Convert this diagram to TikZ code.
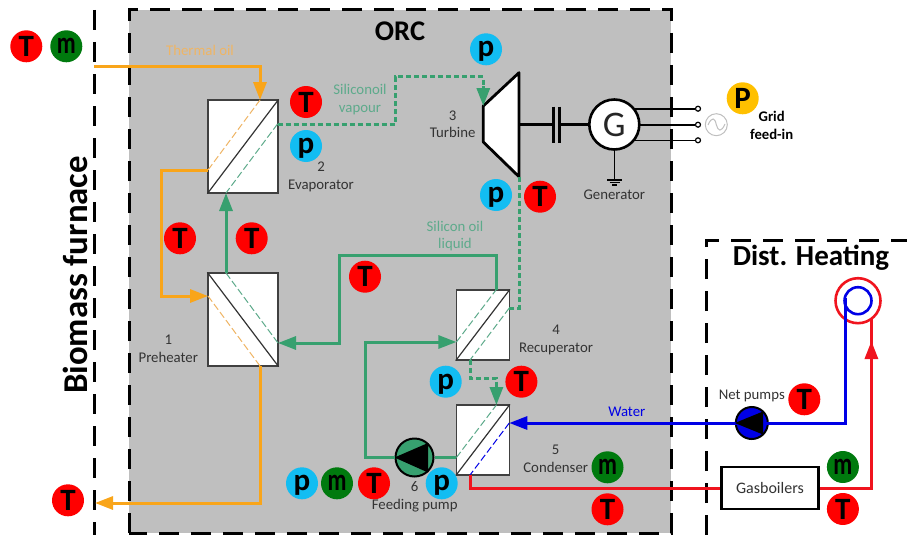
\documentclass[tikz,border=0pt]{standalone}
\usepackage{fontspec}
\setmainfont{Carlito}
\usetikzlibrary{arrows.meta}
\definecolor{orcgray}{HTML}{BFBFBF}
\definecolor{oilorange}{HTML}{F9A51A}
\definecolor{oillight}{HTML}{EFB564}
\definecolor{orcgreen}{HTML}{37A06F}
\definecolor{orclight}{HTML}{5DAA8B}
\definecolor{waterblue}{HTML}{0000E6}
\definecolor{hotred}{HTML}{F0141E}
\definecolor{badgered}{HTML}{FF0000}
\definecolor{badgeblue}{HTML}{12BDF2}
\definecolor{badgegreen}{HTML}{007A0E}
\definecolor{badgeyellow}{HTML}{FFC000}
\tikzset{
  boundary/.style={black,line width=3pt,dash pattern=on 20pt off 12pt},
  pipe/.style={line width=3pt,line join=miter},
  tip/.style={-{Triangle[length=18pt,width=13pt]}},
  vapour/.style={pipe,orcgreen,dash pattern=on 5pt off 3pt},
  inner/.style={line width=1pt,dash pattern=on 7pt off 3pt},
  exchanger/.style={draw=black!75,fill=white,line width=1.2pt,inner sep=0pt},
  badge/.style={circle,minimum size=32pt,inner sep=0pt,font=\fontsize{31}{31}\selectfont\bfseries},
  tbadge/.style={badge,fill=badgered},
  pbadge/.style={badge,fill=badgeblue,text depth=0pt},
  mbadge/.style={badge,fill=badgegreen},
  label/.style={font=\fontsize{14.8}{17.5}\selectfont,text=black!80,align=center,inner sep=0pt},
  oillabel/.style={label,text=oillight},
  greenlabel/.style={label,text=orclight},
  terminal/.style={circle,draw=black,fill=white,line width=1.2pt,minimum size=5pt,inner sep=0pt},
}
\newcommand{\thinm}{\scalebox{0.75}[1]{m}}
\begin{document}
\begin{tikzpicture}[x=1pt,y=-1pt]
  \useasboundingbox (0,0) rectangle (907,535);

  % ORC
  \fill[orcgray] (129,10) rectangle (671,533);
  \draw[boundary] (129,533) -- (129,10) -- (671,10) -- (671,533) -- (129,533);

  % limits
  \draw[boundary] (94,10) -- (94,535);
  \draw[boundary] (706,535) -- (706,240) -- (907,240);

  \node[font=\fontsize{28.5}{28}\selectfont\bfseries] (orctitle) at (400,31.5) {ORC};
  \node[font=\fontsize{29}{28}\selectfont\bfseries] (disttitle) at (811,257.5) {Dist. Heating};
  \node[rotate=90,font=\fontsize{34.8}{32}\selectfont\bfseries] (furnacetitle) at (75,275) {Biomass furnace};

  % exchangers
  \node[exchanger,minimum width=70pt,minimum height=93pt] (evaporator) at (243,146.5) {};
  \node[exchanger,minimum width=70pt,minimum height=93pt] (preheater) at (243,319.5) {};
  \node[exchanger,minimum width=53pt,minimum height=70pt] (recuperator) at (482.8,325) {};
  \node[exchanger,minimum width=53pt,minimum height=70pt] (condenser) at (482.8,440) {};

  \draw[line width=1.2pt,black!80] (evaporator.south west) -- (evaporator.north east);
  \draw[line width=1.2pt,black!80] (preheater.north west) -- (preheater.south east);
  \draw[line width=1.2pt,black!80] (recuperator.south west) -- (recuperator.north east);
  \draw[line width=1.2pt,black!80] (condenser.south west) -- (condenser.north east);

  % ports
  \coordinate (evapOilIn) at (260,100);
  \coordinate (evapOilOut) at (208,170);
  \coordinate (evapVapOut) at (277.5,124);
  \coordinate (evapLiqIn) at (226,193);
  \coordinate (preOilIn) at (208,296);
  \coordinate (preOilOut) at (260,366);
  \coordinate (preLiqOut) at (226,273);
  \coordinate (preLiqIn) at (278,343);
  \coordinate (recLiqIn) at (456.4,342);
  \coordinate (recLiqOut) at (496,290);
  \coordinate (recVapIn) at (509.3,308);
  \coordinate (recVapOut) at (470,360);
  \coordinate (conVapIn) at (496.4,405);
  \coordinate (conLiqOut) at (456.4,457.5);
  \coordinate (conWatIn) at (509.3,423);
  \coordinate (conWatOut) at (470,475);

  \draw[inner,oillight] (evapOilIn) -- (evapOilOut);
  \draw[inner,orclight] (evapVapOut) -- (evapLiqIn);
  \draw[inner,oillight] (preOilIn) -- (preOilOut);
  \draw[inner,orclight] (preLiqOut) -- (preLiqIn);
  \draw[inner,orclight] (recLiqIn) -- (recLiqOut);
  \draw[inner,orclight] (recVapIn) -- (recVapOut);
  \draw[inner,orclight] (conLiqOut) -- (conVapIn);
  \draw[inner,waterblue] (conWatIn) -- (conWatOut);

  % turbine
  \draw[fill=white,line width=2.8pt,line join=round] (483.3,106) -- (519,72.7) -- (519,176.7) -- (483.3,142) -- cycle;
  \coordinate (turbIn) at (483.3,106);
  \coordinate (turbOut) at (519,177);
  \coordinate (turbShaft) at (519,124.5);

  % thermal oil
  \coordinate (oilStart) at (94,67);
  \coordinate (oilEnd) at (95,503);
  \draw[pipe,oilorange,tip] (oilStart) -| (evapOilIn);
  \draw[pipe,oilorange,tip] (evapOilOut) -- (161,170) |- (preOilIn);
  \draw[pipe,oilorange,tip] (preOilOut) |- (oilEnd);

  % pumps
  \node[circle,draw=black,fill=orcgreen,line width=2pt,minimum size=38pt,inner sep=0pt] (feedpump) at (414.5,457.5) {};
  \fill[black] (feedpump.west) -- (428,443) -- (428,472.5) -- cycle;
  \node[circle,draw=black,fill=waterblue,line width=2pt,minimum size=32pt,inner sep=0pt] (netpump) at (751.8,423) {};

  % silicon oil
  \draw[pipe,orcgreen,tip] (preLiqOut) -- (evapLiqIn);
  \draw[pipe,orcgreen,tip] (recLiqOut) |- (339,255) |- (preLiqIn);
  \draw[pipe,orcgreen,tip] (feedpump.west) -| (365.5,342) -- (recLiqIn);
  \draw[pipe,orcgreen] (conLiqOut) -- (feedpump.east);
  \draw[vapour] (evapVapOut) -| (395,76.7) -| (483.3,90);
  \draw[pipe,orcgreen,tip] (483.3,86) -- (turbIn);
  \draw[vapour] (turbOut) |- (recVapIn);
  \draw[vapour] (recVapOut) |- (496.4,378) -- (496.4,388);
  \draw[pipe,orcgreen,tip] (496.4,385) -- (conVapIn);

  % district heating
  \node[circle,draw=hotred,line width=2.6pt,minimum size=45pt,inner sep=0pt] (netouter) at (858,300.7) {};
  \node[circle,draw=waterblue,line width=2.6pt,minimum size=27pt,inner sep=0pt] (netinner) at (858,300.7) {};
  \node[draw=black,fill=white,line width=2.6pt,minimum width=97pt,minimum height=42pt,inner sep=0pt,font=\fontsize{16}{18}\selectfont,text=black!80] (gasboilers) at (770,488) {Gasboilers};
  \coordinate (netBlue) at (845.4,298);
  \coordinate (netRed) at (871.4,319);
  \draw[pipe,waterblue,tip] (netBlue) |- (netpump.east) -- (netpump.west) -- (conWatIn);
  \fill[black] (netpump.west) -- (763,411.5) -- (763,434.5) -- cycle;
  \draw[pipe,hotred] (conWatOut) |- (gasboilers.west);
  \draw[pipe,hotred,tip] (gasboilers.east) -| (871.4,341);
  \draw[pipe,hotred] (871.4,345) -- (netRed);

  % generator
  \coordinate (genCenter) at (614.3,124.5);
  \node[terminal] (termA) at (698,108.7) {};
  \node[terminal] (termB) at (698,124.7) {};
  \node[terminal] (termC) at (698,140.3) {};
  \draw[line width=1.6pt] (genCenter |- termA) -- (termA);
  \draw[line width=1.6pt] (genCenter |- termB) -- (termB);
  \draw[line width=1.6pt] (genCenter |- termC) -- (termC);
  \coordinate (earth) at (614.3,180);
  \draw[line width=1.6pt] (genCenter) -- (earth);
  \draw[line width=1.4pt] (607,180) -- (622,180) (609.5,182.5) -- (619.5,182.5) (612,185) -- (617,185);
  \node[circle,draw=black,fill=white,line width=2.6pt,minimum size=50pt,inner sep=0pt,font=\fontsize{36}{34}\selectfont,text=black!85] (generator) at (genCenter) {G};
  \coordinate (shaftLeft) at (553.3,124.5);
  \coordinate (shaftRight) at (559.3,124.5);
  \draw[line width=2.4pt] (turbShaft) -- (shaftLeft);
  \draw[line width=2.4pt] (shaftRight) -- (generator.west);
  \draw[line width=2.4pt] (553.3,106.7) -- (553.3,143.3);
  \draw[line width=2.4pt] (559.3,106.7) -- (559.3,143.3);
  \node[circle,draw=black!25,line width=1pt,minimum size=22pt,inner sep=0pt] (acsource) at (716.3,124.7) {};
  \draw[black!25,line width=1pt] (708,125) .. controls (712,116) and (715,118) .. (716.3,124.7) .. controls (718,131) and (721,133) .. (725,124);

  % labels
  \node[oillabel] (lbloil) at (200,50) {Thermal oil};
  \node[greenlabel] (lblvapour) at (360,99.5) {Siliconoil\\vapour};
  \node[greenlabel] (lblliquid) at (455,236) {Silicon oil\\liquid};
  \node[label] (lblevap) at (321,177) {2\\Evaporator};
  \node[label] (lblturb) at (452.7,124.5) {3\\Turbine};
  \node[label] (lblpre) at (168.3,349) {1\\Preheater};
  \node[label] (lblrec) at (556,340) {4\\Recuperator};
  \node[label] (lblcon) at (555.7,458.7) {5\\Condenser};
  \node[label] (lblfeed) at (414.7,497) {6\\Feeding pump};
  \node[label] (lblgen) at (614.3,194.7) {Generator};
  \node[label] (lblnet) at (751.8,395.7) {Net pumps};
  \node[label,text=waterblue] (lblwater) at (626.8,411.7) {Water};
  \node[label,text=black,font=\fontsize{14.7}{17.5}\selectfont\bfseries] (lblgrid) at (771.7,125.5) {Grid\\feed-in};

  % temperature
  \node[tbadge] (tOilIn) at (26.3,46.3) {T};
  \node[tbadge] (tEvap) at (306,102) {T};
  \node[tbadge] (tOilMid) at (180,238.3) {T};
  \node[tbadge] (tLiqMid) at (251.7,238.3) {T};
  \node[tbadge] (tLiqRec) at (365,276.7) {T};
  \node[tbadge] (tTurb) at (540,196.7) {T};
  \node[tbadge] (tOilOut) at (68,500.3) {T};
  \node[tbadge] (tFeed) at (374,483.3) {T};
  \node[tbadge] (tRec) at (521.4,381.7) {T};
  \node[tbadge] (tCon) at (607.5,509.3) {T};
  \node[tbadge] (tNet) at (804.3,399.3) {T};
  \node[tbadge] (tBoil) at (842.9,509) {T};

  % pressure
  \node[pbadge] (pEvap) at (306,146) {p};
  \node[pbadge] (pTurbIn) at (486,49.3) {p};
  \node[pbadge] (pTurbOut) at (496,195) {p};
  \node[pbadge] (pFeedIn) at (302,483.3) {p};
  \node[pbadge] (pFeedOut) at (441.7,483.3) {p};
  \node[pbadge] (pRec) at (445.7,381.7) {p};

  % mass flow
  \node[mbadge] (mOil) at (66.3,46.3) {\thinm};
  \node[mbadge] (mFeed) at (337,483.3) {\thinm};
  \node[mbadge] (mCon) at (607.5,467.3) {\thinm};
  \node[mbadge] (mBoil) at (842.9,467) {\thinm};

  % power
  \node[badge,fill=badgeyellow] (pGrid) at (742.7,98.3) {P};
\end{tikzpicture}
\end{document}
